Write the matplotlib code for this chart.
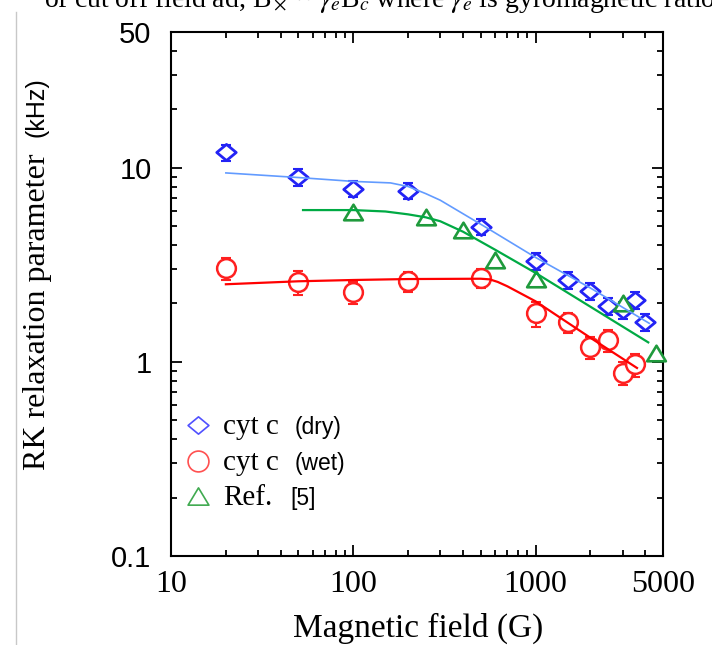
import matplotlib
matplotlib.use("Agg")
import matplotlib.pyplot as plt
from matplotlib.path import Path
from matplotlib.ticker import FixedLocator, LogLocator, NullFormatter

# ---- data ----
dry_field = [20, 50, 100, 200, 500, 1000, 1500, 2000, 2500, 3000, 3500, 4000]
dry_value = [12.0, 8.95, 7.8, 7.6, 4.95, 3.3, 2.64, 2.31, 1.94, 1.85, 2.08, 1.60]
dry_err = [1.15, 0.88, 0.75, 0.72, 0.47, 0.32, 0.26, 0.23, 0.19, 0.18, 0.2, 0.16]

wet_field = [20, 50, 100, 200, 500, 1000, 1500, 2000, 2500, 3000, 3500]
wet_value = [3.04, 2.57, 2.29, 2.60, 2.70, 1.78, 1.60, 1.19, 1.29, 0.88, 0.97]
wet_err = [0.40, 0.36, 0.30, 0.31, 0.30, 0.26, 0.19, 0.16, 0.17, 0.12, 0.13]

ref_field = [100, 250, 400, 600, 1000, 3000, 4600]
ref_value = [5.9, 5.56, 4.77, 3.34, 2.67, 2.0, 1.11]

dry_fit_x = [20, 50, 100, 160, 200, 250, 300, 540, 1000, 2000, 4200]
dry_fit_y = [9.4, 8.9, 8.5, 8.35, 8.0, 7.35, 6.8, 4.9, 3.45, 2.4, 1.58]

wet_fit_x = [20, 50, 100, 200, 500, 560, 620, 700, 1000, 2000, 3600]
wet_fit_y = [2.51, 2.6, 2.64, 2.67, 2.68, 2.66, 2.58, 2.45, 2.05, 1.33, 0.93]

ref_fit_x = [53, 100, 150, 200, 250, 300, 400, 600, 1000, 4150]
ref_fit_y = [6.05, 6.05, 5.95, 5.75, 5.55, 5.3, 4.68, 3.78, 2.87, 1.26]

x_ticks = [10, 100, 1000, 5000]
x_ticklabels = ["10", "100", "1000", "5000"]
y_ticks = [0.1, 1, 10, 50]
y_ticklabels = ["0.1", "1", "10", "50"]

legend_main = ["cyt c", "cyt c", "Ref."]
legend_extra = ["(dry)", "(wet)", "[5]"]

# ---- figure ----
W, H = 712, 645
plt.rcParams['mathtext.fontset'] = 'stix'
fig = plt.figure(figsize=(W / 100, H / 100), dpi=100)


def fx(px):
    return px / W


def fy(py):
    return 1 - py / H


# flattened marker shapes (wider than tall, as in the reference)
diamond = Path([(-1, 0), (0, -0.83), (1, 0), (0, 0.83), (-1, 0)],
               [Path.MOVETO, Path.LINETO, Path.LINETO, Path.LINETO, Path.CLOSEPOLY])
triangle = Path([(0, 0.83), (-1, -0.83), (1, -0.83), (0, 0.83)],
                [Path.MOVETO, Path.LINETO, Path.LINETO, Path.CLOSEPOLY])

ax = fig.add_axes([fx(171), fy(556), (663 - 171) / W, (556 - 32) / H])
ax.set_xscale('log')
ax.set_yscale('log')
ax.set_xlim(10, 5000)
ax.set_ylim(0.1, 50)

blue_m = '#2323f5'
blue_l = '#629bff'
red_m = '#ff2020'
red_l = '#ff0000'
green_m = '#1f9a3c'
green_l = '#00aa44'

ax.errorbar(dry_field, dry_value, yerr=dry_err, fmt='none', ecolor=blue_m,
            elinewidth=1.5, capsize=3.5, capthick=1.5, zorder=2)
ax.plot(dry_field, dry_value, linestyle='none', marker=diamond, ms=14,
        mfc='white', mec=blue_m, mew=2.0, zorder=3, clip_on=False)
ax.errorbar(wet_field, wet_value, yerr=wet_err, fmt='none', ecolor=red_m,
            elinewidth=1.5, capsize=3.5, capthick=1.5, zorder=2)
ax.plot(wet_field, wet_value, linestyle='none', marker='o', ms=13.5,
        mfc='white', mec=red_m, mew=1.8, zorder=3, clip_on=False)
ax.plot(ref_field, ref_value, linestyle='none', marker=triangle, ms=13.5,
        mfc='white', mec=green_m, mew=1.9, zorder=3, clip_on=False)

ax.plot(dry_fit_x, dry_fit_y, color=blue_l, lw=1.2, zorder=4)
ax.plot(ref_fit_x, ref_fit_y, color=green_l, lw=1.6, zorder=4)
ax.plot(wet_fit_x, wet_fit_y, color=red_l, lw=1.6, zorder=4)

# axes styling
for s in ax.spines.values():
    s.set_linewidth(1.5)
    s.set_color('black')

ax.xaxis.set_major_locator(FixedLocator(x_ticks))
ax.set_xticklabels(x_ticklabels, fontfamily='Liberation Serif', fontsize=23)
ax.xaxis.set_minor_locator(LogLocator(base=10, subs=range(2, 10), numticks=20))
ax.xaxis.set_minor_formatter(NullFormatter())

ax.yaxis.set_major_locator(FixedLocator(y_ticks))
ax.set_yticklabels(y_ticklabels, fontfamily='Liberation Sans', fontsize=21)
ax.yaxis.set_minor_locator(LogLocator(base=10, subs=range(2, 10), numticks=20))
ax.yaxis.set_minor_formatter(NullFormatter())

ax.tick_params(which='both', direction='in', top=True, right=True, width=1.3)
ax.tick_params(which='major', length=8)
ax.tick_params(which='minor', length=4.5)
ax.tick_params(axis='x', which='major', pad=10)
ax.tick_params(axis='y', which='major', pad=14)

# axis labels
fig.text(fx(418), fy(637), "Magnetic field (G)", ha='center', va='baseline',
         fontfamily='Liberation Serif', fontsize=24)
fig.text(fx(38), fy(470), "RK relaxation parameter", rotation=90, ha='center',
         va='bottom', fontfamily='Liberation Serif', fontsize=23)
fig.text(fx(37), fy(137), "(kHz)", rotation=90, ha='center', va='bottom',
         fontfamily='Liberation Sans', fontsize=18)

# legend (drawn manually)
leg_marker = [diamond, 'o', triangle]
leg_ms = [15, 15, 15]
leg_color = ['#5050ff', '#ff5050', '#40aa50']
leg_y = [425, 461, 496]
for mk, ms, c, yy, t1, t2 in zip(leg_marker, leg_ms, leg_color, leg_y,
                                  legend_main, legend_extra):
    fig.lines.append(plt.Line2D([fx(198)], [fy(yy)], marker=mk, ms=ms,
                                mfc='none', mec=c, mew=1.2,
                                transform=fig.transFigure))
    fig.text(fx(223), fy(yy + 9), t1, ha='left', va='baseline',
             fontfamily='Liberation Serif', fontsize=21)
    fig.text(fx(295 if t2 != "[5]" else 290), fy(yy + 9), t2, ha='left',
             va='baseline', fontfamily='Liberation Sans', fontsize=16.5)

# cut-off text of the page above and page border line
fig.text(fx(44), fy(7), r"of cut off field ad, B$_\times$ ~ $\gamma_e$B$_c$ where $\gamma_e$ is gyromagnetic ratio.",
         ha='left', va='baseline', fontfamily='Liberation Serif', fontsize=20)
fig.lines.append(plt.Line2D([fx(16), fx(16)], [fy(12), 0], color='#c8c8c8',
                            lw=1, transform=fig.transFigure))

fig.savefig('out.png', dpi=100)
